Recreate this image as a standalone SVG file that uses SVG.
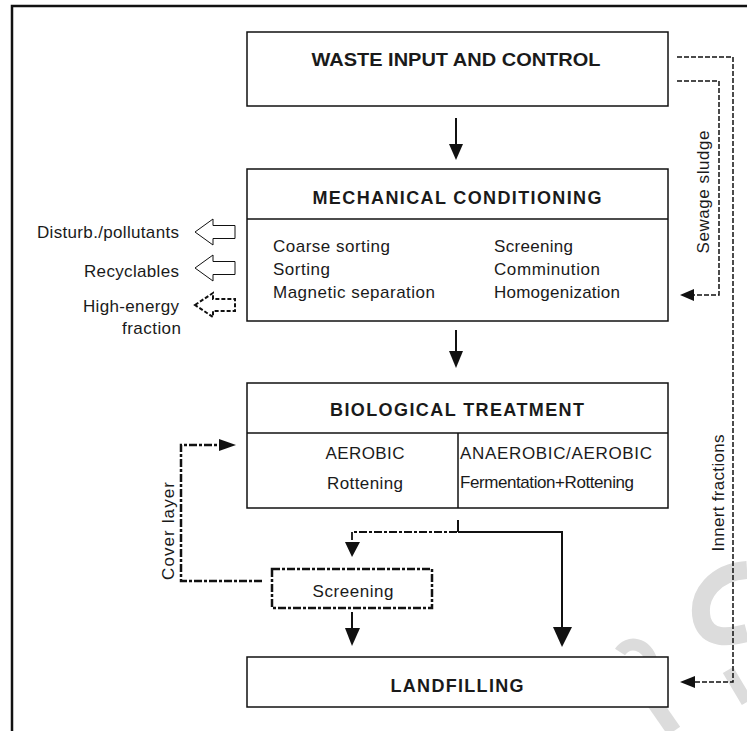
<svg xmlns="http://www.w3.org/2000/svg" width="747" height="731" viewBox="0 0 747 731">
<style>
  text { font-family: "Liberation Sans", Arial, sans-serif; fill: #1a1a1a; }
  .title { font-size: 18px; font-weight: bold; text-anchor: middle; }
  .item { font-size: 17px; }
  .lbl { font-size: 17px; text-anchor: end; }
  .box { fill: #fff; stroke: #111; stroke-width: 1.5; }
  .line { fill: none; stroke: #111; stroke-width: 1.5; }
  .solid { fill: none; stroke: #111; stroke-width: 2; }
  .dash { fill: none; stroke: #111; stroke-width: 1.5; stroke-dasharray: 5 2; }
  .dashdot { fill: none; stroke: #111; stroke-width: 2.5; stroke-dasharray: 8 2 3 2; }
  .dashdot-thin { fill: none; stroke: #111; stroke-width: 1.8; stroke-dasharray: 8 2 3 2; }
  .head { fill: #111; stroke: none; }
  .hollow { fill: #fff; stroke: #111; stroke-width: 1; }
  .hollowd { fill: #fff; stroke: #111; stroke-width: 2; stroke-dasharray: 4 2; }
  .wm { fill: none; stroke: #dcdcdc; stroke-linecap: butt; }
</style>

<g id="watermark">
  <path class="wm" stroke-width="18" d="M 747 570 C 716 572 696 594 702 620 C 708 640 728 638 747 633"/>
  <path class="wm" stroke-width="12" d="M 620 652 C 628 640 646 642 652 662"/>
  <path class="wm" stroke-width="15" d="M 626 662 L 674 731"/>
  <path class="wm" stroke-width="12" d="M 728 670 L 747 702"/>
</g>

<g id="frame">
  <path d="M 12 731 L 12 6 L 747 6" fill="none" stroke="#111" stroke-width="2.5"/>
</g>

<g id="connectors">
  <!-- waste input -> mechanical -->
  <path class="solid" d="M 456 118 L 456 145"/>
  <path class="head" d="M 449 144 L 463 144 L 456 160 Z"/>
  <!-- mechanical -> biological -->
  <path class="solid" d="M 456 330 L 456 352"/>
  <path class="head" d="M 449 351 L 463 351 L 456 368 Z"/>
  <!-- biological branch -->
  <path class="solid" d="M 458 520 L 458 532"/>
  <path class="solid" d="M 458 532 L 562 532 L 562 628"/>
  <path class="head" d="M 553 627 L 572 627 L 562 647 Z"/>
  <path class="dashdot-thin" d="M 457 532 L 352 532 L 352 543"/>
  <path class="head" d="M 345 542 L 360 542 L 352 557 Z"/>
  <!-- screening -> landfilling -->
  <path class="solid" d="M 352 612 L 352 629"/>
  <path class="head" d="M 345 628 L 360 628 L 352 646 Z"/>
  <!-- cover layer -->
  <path class="dashdot" d="M 262 581 L 181 581 L 181 445 L 220 445"/>
  <path class="head" d="M 219 439 L 236 445 L 219 451 Z"/>
  <!-- sewage sludge -->
  <path class="dash" d="M 677 81 L 719 81 L 719 295 L 692 295"/>
  <path class="head" d="M 694 289 L 680 295 L 694 301 Z"/>
  <!-- inert fractions -->
  <path class="dash" d="M 677 57 L 733 57 L 733 682 L 694 682"/>
  <path class="head" d="M 695 676 L 680 682 L 695 688 Z"/>
  <!-- hollow arrows out of mechanical conditioning -->
  <path class="hollow" d="M 195 232 L 213 219 L 213 225.5 L 235 225.5 L 235 238.5 L 213 238.5 L 213 245 Z"/>
  <path class="hollow" d="M 195 268 L 213 255 L 213 261.5 L 235 261.5 L 235 274.5 L 213 274.5 L 213 281 Z"/>
  <path class="hollowd" d="M 195 305 L 213 293 L 213 299 L 235 299 L 235 311 L 213 311 L 213 317 Z"/>
</g>

<g id="labels">
  <text class="lbl" x="179" y="238" textLength="142" lengthAdjust="spacing">Disturb./pollutants</text>
  <text class="lbl" x="179" y="277" textLength="95" lengthAdjust="spacing">Recyclables</text>
  <text class="lbl" x="179" y="312" textLength="96" lengthAdjust="spacing">High-energy</text>
  <text class="lbl" x="181" y="334" textLength="59" lengthAdjust="spacing">fraction</text>
  <text class="item" transform="translate(174,531) rotate(-90)" text-anchor="middle" textLength="98" lengthAdjust="spacing">Cover layer</text>
  <text class="item" transform="translate(709,192) rotate(-90)" text-anchor="middle" textLength="123" lengthAdjust="spacing">Sewage sludge</text>
  <text class="item" transform="translate(724,493) rotate(-90)" text-anchor="middle" textLength="117" lengthAdjust="spacing">Innert fractions</text>
</g>

<g id="waste-input">
  <rect class="box" x="247" y="32" width="421" height="74"/>
  <text class="title" x="456" y="66" font-size="19" textLength="289" lengthAdjust="spacingAndGlyphs">WASTE INPUT AND CONTROL</text>
</g>

<g id="mechanical">
  <rect class="box" x="247" y="169" width="421" height="152"/>
  <line class="line" x1="247" y1="219" x2="668" y2="219"/>
  <text class="title" x="457" y="203.5" textLength="289" lengthAdjust="spacing">MECHANICAL CONDITIONING</text>
  <text class="item" x="273" y="252" textLength="117" lengthAdjust="spacing">Coarse sorting</text>
  <text class="item" x="273" y="275" textLength="57" lengthAdjust="spacing">Sorting</text>
  <text class="item" x="273" y="298" textLength="162" lengthAdjust="spacing">Magnetic separation</text>
  <text class="item" x="494" y="252" textLength="79" lengthAdjust="spacing">Screening</text>
  <text class="item" x="494" y="275" textLength="106" lengthAdjust="spacing">Comminution</text>
  <text class="item" x="494" y="298" textLength="126" lengthAdjust="spacing">Homogenization</text>
</g>

<g id="biological">
  <rect class="box" x="247" y="383" width="421" height="125"/>
  <line class="line" x1="247" y1="433" x2="668" y2="433"/>
  <line class="line" x1="458" y1="433" x2="458" y2="508"/>
  <text class="title" x="457" y="415.5" textLength="254" lengthAdjust="spacing">BIOLOGICAL TREATMENT</text>
  <text class="item" x="365" y="459" text-anchor="middle" textLength="79" lengthAdjust="spacing">AEROBIC</text>
  <text class="item" x="365" y="489" text-anchor="middle" textLength="76" lengthAdjust="spacing">Rottening</text>
  <text class="item" x="460" y="459" textLength="192" lengthAdjust="spacing">ANAEROBIC/AEROBIC</text>
  <text class="item" x="460" y="488" font-size="16" textLength="174" lengthAdjust="spacing">Fermentation+Rottening</text>
</g>

<g id="screening">
  <rect class="dashdot" x="272" y="569" width="160" height="39"/>
  <text class="item" x="353" y="597" text-anchor="middle" textLength="81" lengthAdjust="spacing">Screening</text>
</g>

<g id="landfilling">
  <rect class="box" x="247" y="657" width="421" height="50"/>
  <text class="title" x="457" y="691.5" textLength="133" lengthAdjust="spacing">LANDFILLING</text>
</g>
</svg>
